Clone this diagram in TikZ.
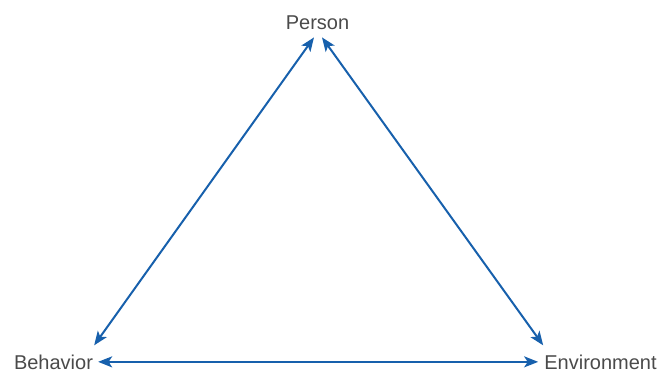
\documentclass[tikz,border=0pt]{standalone}
\usepackage{fontspec}
\setmainfont{Liberation Sans}
\usetikzlibrary{arrows.meta}
\definecolor{linkblue}{HTML}{1760AC}
\definecolor{labelgray}{HTML}{4A4A4A}
\tikzset{
  lbl/.style={inner sep=0pt, anchor=base, text=labelgray, font=\fontsize{20}{24}\selectfont},
  tip/.tip={Stealth[length=14pt,width=11pt,inset=3.5pt]},
  link/.style={draw=linkblue, line width=2pt, {tip}-{tip}}
}
\begin{document}
\begin{tikzpicture}[x=1pt,y=1pt]
\useasboundingbox (0,0) rectangle (661,-372);
\node[lbl] (person) at (317.5,-29) {Person};
\node[lbl] (behavior) at (53.5,-369) {Behavior};
\node[lbl] (environment) at (600.5,-369) {Environment};
\draw[link] ([shift={(-3.5,-8)}]person.south) -- ([shift={(1,9)}]behavior.north east);
\draw[link] ([shift={(4.5,-8)}]person.south) -- ([shift={(-1,9)}]environment.north west);
\draw[link] ([xshift=5pt]behavior.east) -- ([xshift=-6pt]environment.west);
\end{tikzpicture}
\end{document}
